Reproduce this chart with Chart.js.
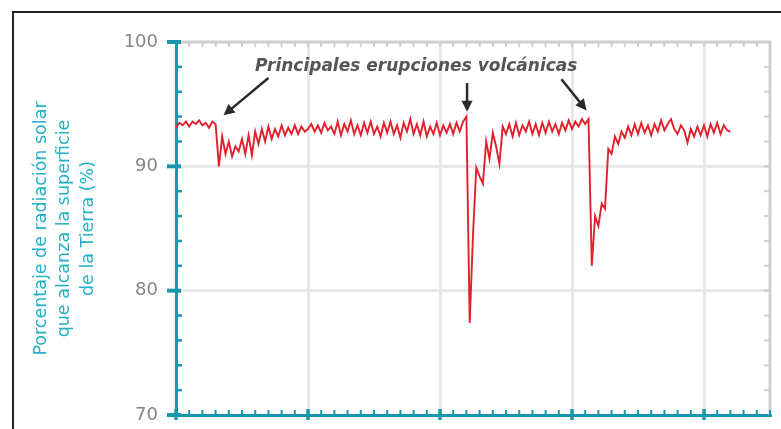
<!DOCTYPE html>
<html>
<head>
<meta charset="utf-8">
<script src="https://cdn.jsdelivr.net/npm/chart.js@4"></script>
<style>
  html, body { margin: 0; padding: 0; background: #fff; }
  #wrap { width: 781px; height: 429px; position: relative; }
</style>
</head>
<body>
<div id="wrap"><canvas id="c"></canvas></div>
<script>
// Mauna Loa style transmission record: quarterly readings starting 1960.
const START_YEAR = 1960;
const STEP = 0.25;
const V_1960S = [93.1, 93.5, 93.3, 93.6, 93.2, 93.6, 93.4, 93.7, 93.3, 93.5, 93.1, 93.6,
  93.4, 90.0, 92.4, 91.0, 92.0, 90.8, 91.6, 91.2, 92.2, 91.0, 92.5, 90.9,
  92.8, 91.8, 93.0, 92.0, 93.2, 92.2, 93.0, 92.4, 93.3, 92.5, 93.1, 92.6, 93.3, 92.6, 93.2, 92.8];
const V_1970S = [93.0, 93.4, 92.8, 93.3, 92.7, 93.5, 92.9, 93.2, 92.6, 93.6, 92.5, 93.4,
  92.8, 93.7, 92.6, 93.3, 92.5, 93.5, 92.7, 93.6, 92.6, 93.2, 92.4, 93.5,
  92.7, 93.6, 92.6, 93.3, 92.3, 93.5, 92.8, 93.8, 92.6, 93.4, 92.5, 93.6, 92.4, 93.2, 92.6, 93.5];
const V_1980S = [92.5, 93.3, 92.7, 93.4, 92.6, 93.5, 92.8, 93.6, 94.0, 77.4, 84.5, 89.9,
  89.2, 88.6, 92.0, 90.6, 92.7, 91.6, 90.2, 93.2, 92.6, 93.4, 92.4, 93.5,
  92.5, 93.3, 92.8, 93.6, 92.6, 93.4, 92.5, 93.5, 92.7, 93.6, 92.8, 93.4, 92.6, 93.5, 92.9, 93.7];
const V_1990S = [93.0, 93.6, 93.2, 93.8, 93.4, 93.8, 82.0, 86.0, 85.2, 87.0, 86.6, 91.4,
  91.0, 92.4, 91.8, 92.8, 92.3, 93.2, 92.5, 93.4, 92.6, 93.5, 92.7, 93.3,
  92.5, 93.4, 92.8, 93.7, 92.9, 93.4, 93.8, 93.0, 92.6, 93.3, 92.9, 91.9, 93.0, 92.4, 93.2, 92.5];
const V_2000S = [93.3, 92.4, 93.4, 92.7, 93.5, 92.6, 93.3, 92.9, 92.8];

const Y_TICKS = [70, 80, 90, 100];
const X_MIN = 1960, X_MAX = 2005;
const Y_TITLE = ["Porcentaje de radiación solar", "que alcanza la superficie", "de la Tierra (%)"];
const NOTE = "Principales erupciones volcánicas";
const NOTE_AT = [1978.2, 98.0];
// arrows: [fromYear, fromValue, toYear, toValue]
const ARROWS = [
  [1967.0, 97.1, 1963.6, 94.1],
  [1982.05, 96.7, 1982.05, 94.4],
  [1989.2, 97.0, 1991.1, 94.5],
];

const TEAL = "#1997ad", TEAL_TEXT = "#23b2c5", RED = "#e2202c", GRID = "#e8e8e8", FRAME = "#cfcfcf";
const FONT = "'DejaVu Sans', sans-serif";

const values = [...V_1960S, ...V_1970S, ...V_1980S, ...V_1990S, ...V_2000S];
const points = values.map((v, i) => ({ x: START_YEAR + i * STEP, y: v }));

function arrow(ctx, x1, y1, x2, y2) {
  const a = Math.atan2(y2 - y1, x2 - x1), L = 11, W = 5.5;
  ctx.beginPath();
  ctx.moveTo(x1, y1);
  ctx.lineTo(x2 - Math.cos(a) * (L - 2), y2 - Math.sin(a) * (L - 2));
  ctx.stroke();
  ctx.beginPath();
  ctx.moveTo(x2, y2);
  ctx.lineTo(x2 - Math.cos(a) * L + Math.sin(a) * W, y2 - Math.sin(a) * L - Math.cos(a) * W);
  ctx.lineTo(x2 - Math.cos(a) * L - Math.sin(a) * W, y2 - Math.sin(a) * L + Math.cos(a) * W);
  ctx.closePath();
  ctx.fill();
}

const decor = {
  id: "decor",
  beforeDraw(chart) {
    const ctx = chart.ctx;
    ctx.save();
    ctx.strokeStyle = "#222";
    ctx.lineWidth = 2;
    ctx.strokeRect(13, 12, 900, 900);
    ctx.restore();
  },
  afterDraw(chart) {
    const { ctx, chartArea: a, scales: { x, y } } = chart;
    ctx.save();
    // gray frame top + right with inward minor ticks
    ctx.strokeStyle = FRAME;
    ctx.lineWidth = 3;
    ctx.beginPath();
    ctx.moveTo(a.left, a.top); ctx.lineTo(a.right, a.top); ctx.lineTo(a.right, a.bottom);
    ctx.stroke();
    ctx.lineWidth = 2;
    for (let yr = X_MIN + 1; yr < X_MAX; yr++) {
      const px = x.getPixelForValue(yr);
      ctx.beginPath(); ctx.moveTo(px, a.top); ctx.lineTo(px, a.top + 5); ctx.stroke();
    }
    for (let v = 72; v < 100; v += 2) {
      const py = y.getPixelForValue(v);
      ctx.beginPath(); ctx.moveTo(a.right, py); ctx.lineTo(a.right - 6, py); ctx.stroke();
    }
    // teal ticks
    ctx.strokeStyle = TEAL;
    for (let v = 70; v <= 100; v += 2) {
      const py = y.getPixelForValue(v);
      ctx.beginPath();
      if (v % 10 === 0) { ctx.lineWidth = 4; ctx.moveTo(a.left - 9, py); ctx.lineTo(a.left + 5, py); }
      else { ctx.lineWidth = 2.5; ctx.moveTo(a.left, py); ctx.lineTo(a.left + 6, py); }
      ctx.stroke();
    }
    for (let yr = X_MIN; yr <= X_MAX; yr++) {
      const px = x.getPixelForValue(yr);
      ctx.beginPath();
      if (yr % 10 === 0) { ctx.lineWidth = 3.5; ctx.moveTo(px, a.bottom + 5); ctx.lineTo(px, a.bottom - 6); }
      else { ctx.lineWidth = 2; ctx.moveTo(px, a.bottom); ctx.lineTo(px, a.bottom - 5); }
      ctx.stroke();
    }
    // annotation
    ctx.fillStyle = "#555";
    ctx.font = `italic bold 17px ${FONT}`;
    ctx.textAlign = "center";
    ctx.textBaseline = "middle";
    ctx.fillText(NOTE, x.getPixelForValue(NOTE_AT[0]), y.getPixelForValue(NOTE_AT[1]));
    ctx.strokeStyle = "#2a2a2a";
    ctx.fillStyle = "#2a2a2a";
    ctx.lineWidth = 2.5;
    ARROWS.forEach(([x1, y1, x2, y2]) => arrow(ctx,
      x.getPixelForValue(x1), y.getPixelForValue(y1), x.getPixelForValue(x2), y.getPixelForValue(y2)));
    ctx.restore();
  },
};

new Chart(document.getElementById("c"), {
  type: "line",
  data: { datasets: [{ data: points, borderColor: RED, borderWidth: 1.9, pointRadius: 0, tension: 0, fill: false }] },
  options: {
    responsive: true, maintainAspectRatio: false, animation: false, parsing: false,
    layout: { padding: { top: 42, right: 11, left: 0, bottom: 0 } },
    plugins: { legend: { display: false }, tooltip: { enabled: false } },
    scales: {
      x: {
        type: "linear", min: X_MIN, max: X_MAX,
        ticks: { display: false, stepSize: 10 },
        grid: { color: (c) => (c.tick && c.tick.value > X_MIN && c.tick.value < X_MAX ? GRID : "transparent"), lineWidth: 3, drawTicks: false },
        border: { color: TEAL, width: 3 },
        afterFit: (s) => { s.height = 14; },
      },
      y: {
        min: 70, max: 100,
        afterBuildTicks: (s) => { s.ticks = Y_TICKS.map((v) => ({ value: v })); },
        ticks: { color: "#858585", font: { family: FONT, size: 18 }, padding: 18 },
        grid: { color: (c) => (c.tick && c.tick.value > 70 && c.tick.value < 100 ? GRID : "transparent"), lineWidth: 3, drawTicks: false },
        border: { color: TEAL, width: 3 },
        title: { display: true, text: Y_TITLE, color: TEAL_TEXT, font: { family: FONT, size: 17.5, lineHeight: 1.33 }, padding: { top: 30, bottom: 0 } },
        afterFit: (s) => { s.width = 176; s.paddingTop = 0; s.paddingBottom = 0; },
      },
    },
  },
  plugins: [decor],
});
</script>
</body>
</html>
